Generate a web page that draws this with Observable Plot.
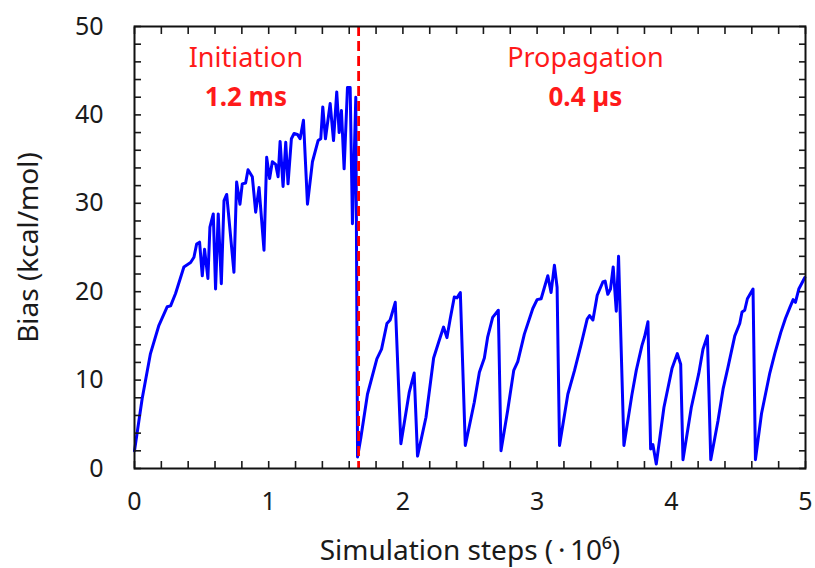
<!DOCTYPE html>
<html><head><meta charset="utf-8">
<script src="https://cdn.jsdelivr.net/npm/d3@7"></script>
<script src="https://cdn.jsdelivr.net/npm/@observablehq/plot@0.6"></script>
<style>html,body{margin:0;padding:0;background:#fff}</style>
</head><body><div id="chart"></div>
<script>
// Simulation steps (x 10^6)
const steps = [
  0.000,0.057,0.119,0.182,0.244,0.269,0.306,0.368,0.418,0.443,0.463,0.485,0.505,0.522,0.547,0.562,0.587,0.604,0.624,0.647,
  0.667,0.687,0.741,0.761,0.786,0.803,0.828,0.846,0.878,0.903,0.928,0.965,0.985,1.007,1.027,1.052,1.070,1.085,1.107,1.127,
  1.144,1.169,1.189,1.214,1.234,1.259,1.289,1.326,1.368,1.388,1.403,1.423,1.458,1.483,1.507,1.525,1.542,1.562,1.587,1.607,
  1.624,1.649,1.662,1.687,1.736,1.806,1.841,1.881,1.905,1.943,1.985,2.047,2.084,2.109,2.172,2.229,2.271,2.303,2.328,2.351,
  2.383,2.403,2.428,2.465,2.532,2.570,2.607,2.632,2.669,2.711,2.731,2.781,2.826,2.856,2.905,2.968,3.000,3.030,3.080,3.104,
  3.129,3.149,3.167,3.229,3.279,3.329,3.373,3.391,3.416,3.448,3.490,3.507,3.527,3.547,3.567,3.590,3.607,3.647,3.706,3.739,
  3.781,3.801,3.826,3.846,3.863,3.888,3.945,4.005,4.045,4.070,4.087,4.149,4.204,4.236,4.269,4.294,4.348,4.386,4.423,4.473,
  4.510,4.527,4.547,4.567,4.609,4.627,4.672,4.734,4.771,4.816,4.851,4.883,4.908,4.925,4.950,4.995
];
// Bias (kcal/mol)
const bias = [
  2.0,7.9,13.0,16.2,18.3,18.4,19.8,22.8,23.3,23.9,25.4,25.6,21.8,24.8,21.5,27.3,28.8,20.3,28.8,20.9,
  30.3,31.0,22.2,32.4,29.9,32.2,32.3,33.8,33.0,29.0,31.8,24.7,35.2,32.8,34.7,34.4,33.0,37.0,31.9,36.9,
  32.2,37.3,37.9,37.8,37.3,39.4,29.9,34.7,37.1,37.3,40.9,37.3,41.3,37.1,42.6,38.0,40.5,33.9,43.1,43.1,
  27.7,42.0,1.3,3.5,8.4,12.4,13.5,16.4,16.8,18.8,2.8,8.6,10.8,1.4,5.8,12.5,14.5,16.0,14.8,16.8,
  19.4,19.3,19.9,2.6,7.5,10.9,12.5,14.9,17.1,17.9,2.0,6.6,11.1,12.1,15.2,18.1,19.1,19.2,21.8,19.9,
  23.0,20.5,2.6,8.4,11.1,14.1,16.9,17.3,16.8,19.6,21.1,21.2,19.7,20.3,22.8,17.8,24.0,2.6,8.3,11.1,
  13.9,14.9,16.6,2.2,2.7,0.5,6.9,11.3,13.0,11.8,1.0,6.9,10.7,13.5,15.0,1.0,5.4,9.0,11.5,15.0,
  16.4,17.7,17.9,19.2,20.3,1.0,6.2,10.8,13.0,15.4,17.0,18.2,19.1,18.8,20.3,21.6
];
const phaseBoundary = [1.67];
const phaseNames = ["Initiation", "Propagation"];
const phaseTimes = ["1.2 ms", "0.4 µs"];
const phaseCenters = [0.83, 3.36];
const xLabelTicks = [0, 1, 2, 3, 4, 5];
const yLabelTicks = [0, 10, 20, 30, 40, 50];
const xMinorTicks = d3.range(0, 26).map(i => i / 5);
const yMinorTicks = d3.range(0, 26).map(i => i * 2);

const series = steps.map((s, i) => ({step: s, bias: bias[i]}));
const names = phaseNames.map((n, i) => ({x: phaseCenters[i], y: 46.4, t: n}));
const times = phaseTimes.map((n, i) => ({x: phaseCenters[i], y: 42.0, t: n}));

const tk = 7, tw = 1.6;
const chart = Plot.plot({
  width: 815, height: 568,
  marginLeft: 134, marginRight: 10, marginTop: 26, marginBottom: 100,
  style: {fontFamily: "'Noto Sans', sans-serif", fontSize: "24px", color: "#1a1a1a", background: "#fff"},
  x: {domain: [0, 5]},
  y: {domain: [0, 50]},
  marks: [
    Plot.line(series, {x: "step", y: "bias", stroke: "#0000ff", strokeWidth: 3, curve: "linear", strokeLinejoin: "round"}),
    Plot.ruleX(phaseBoundary, {stroke: "#ff0000", strokeWidth: 2.8, strokeDasharray: "10,5"}),
    Plot.text(names, {x: "x", y: "y", text: "t", fill: "#ff1a1a", fontSize: 27}),
    Plot.text(times, {x: "x", y: "y", text: "t", fill: "#ff1a1a", fontSize: 26, fontWeight: "bold"}),
    Plot.axisX({anchor: "bottom", ticks: xMinorTicks, tickSize: tk, dy: -tk, tickFormat: () => "", label: null, strokeWidth: tw}),
    Plot.axisX({anchor: "top", ticks: xMinorTicks, tickSize: tk, dy: tk, tickFormat: () => "", label: null, strokeWidth: tw}),
    Plot.axisY({anchor: "left", ticks: yMinorTicks, tickSize: tk, dx: tk, tickFormat: () => "", label: null, strokeWidth: tw}),
    Plot.axisY({anchor: "right", ticks: yMinorTicks, tickSize: tk, dx: -tk, tickFormat: () => "", label: null, strokeWidth: tw}),
    Plot.axisX({anchor: "bottom", ticks: xLabelTicks, tickFormat: "d", tickSize: 0, tickPadding: 24, fontSize: 25}),
    Plot.axisY({anchor: "left", ticks: yLabelTicks, tickFormat: "d", tickSize: 0, tickPadding: 31, fontSize: 25, label: null}),
    Plot.axisX({anchor: "bottom", ticks: [], fontSize: 28,
      label: "Simulation steps (\u2009·\u200910⁶)", labelAnchor: "center", labelOffset: 91, labelArrow: "none"}),
    Plot.axisY({anchor: "left", ticks: [], fontSize: 28,
      label: "Bias (kcal/mol)", labelAnchor: "center", labelOffset: 116, labelArrow: "none"}),
    Plot.frame({stroke: "#111", strokeWidth: 2})
  ]
});
document.getElementById("chart").append(chart);
</script>
</body></html>
